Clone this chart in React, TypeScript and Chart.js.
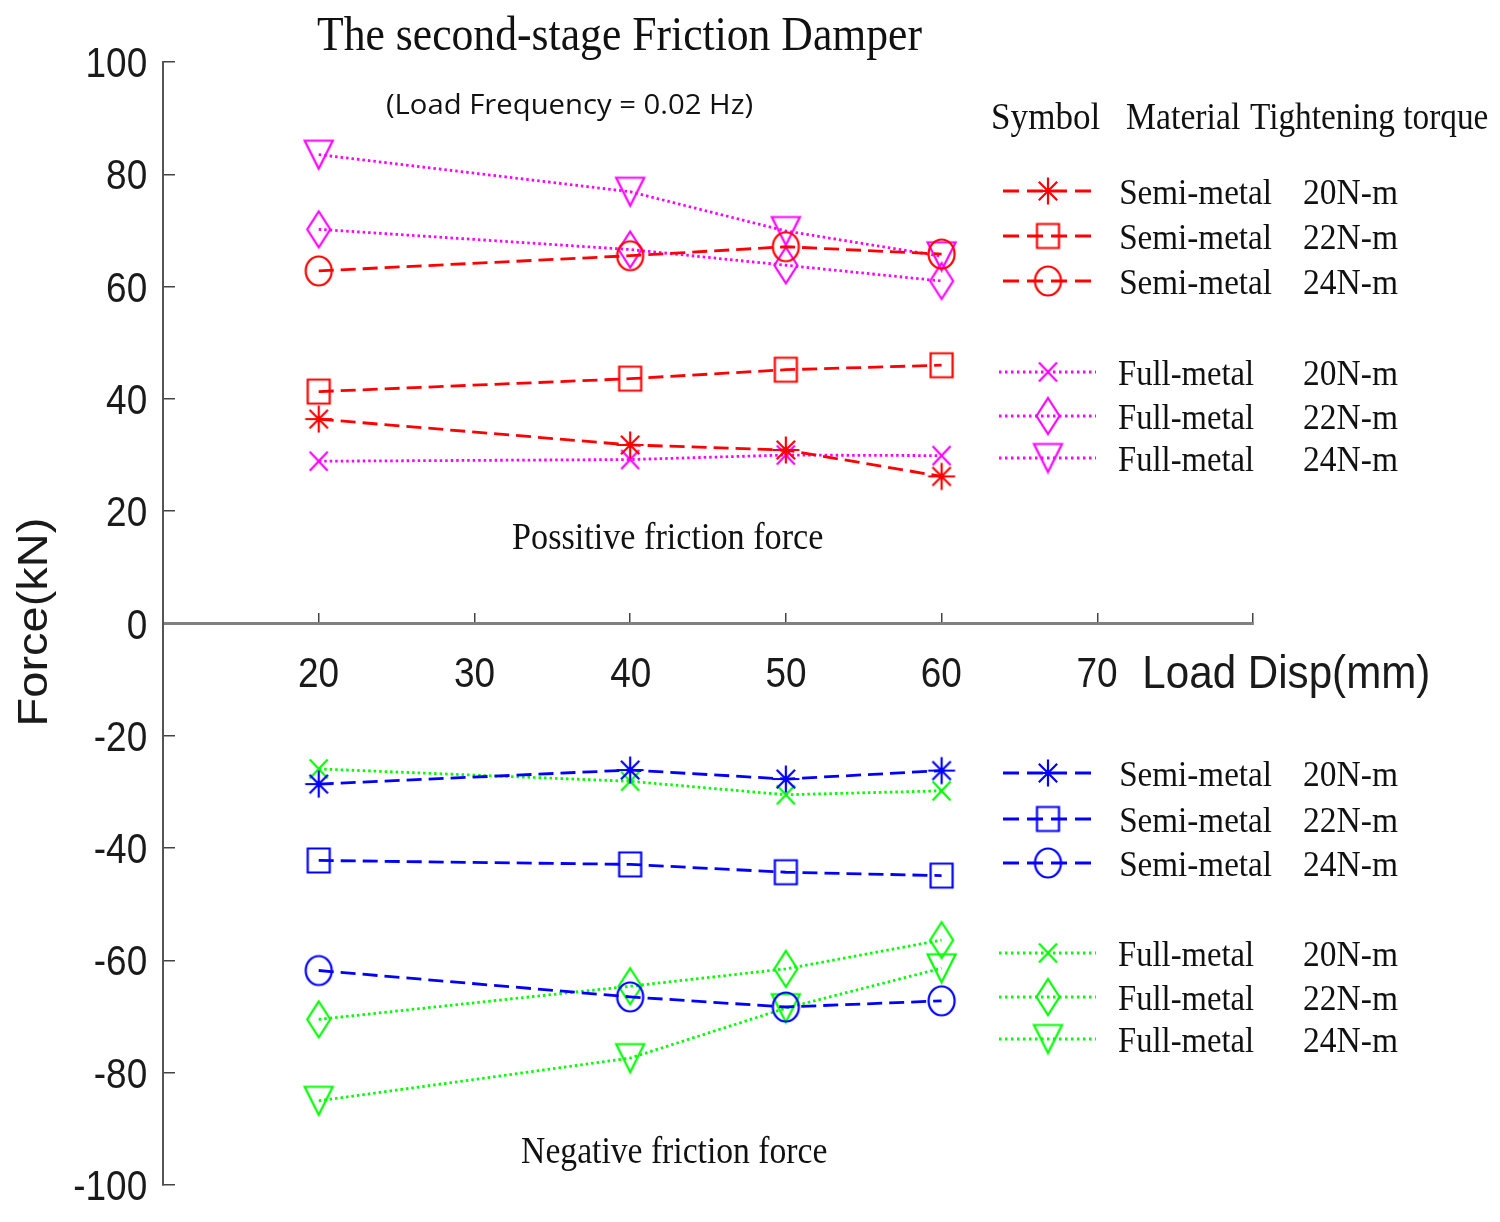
import React, { useEffect, useRef } from 'react';
import { Chart, registerables } from 'chart.js';

Chart.register(...registerables);

// ---------- data ----------
const loadDisp = [20, 40, 50, 60];

const semi20Pos = [36.4, 31.8, 30.9, 26.2];
const semi22Pos = [41.3, 43.6, 45.2, 46.0];
const semi24Pos = [62.8, 65.5, 67.1, 65.8];
const full20Pos = [28.9, 29.2, 30.0, 29.9];
const full22Pos = [70.2, 66.6, 63.8, 61.0];
const full24Pos = [83.5, 76.9, 69.9, 65.4];

const semi20Neg = [-28.6, -26.1, -27.7, -26.2];
const semi22Neg = [-42.2, -42.9, -44.3, -44.9];
const semi24Neg = [-61.8, -66.5, -68.3, -67.2];
const full20Neg = [-25.9, -28.1, -30.5, -29.8];
const full22Neg = [-70.5, -64.6, -61.5, -56.4];
const full24Neg = [-85.0, -77.4, -68.5, -61.4];

const materials = ['Semi-metal', 'Full-metal'];
const torques = ['20N-m', '22N-m', '24N-m'];
const legendHeader = ['Symbol', 'Material', 'Tightening torque'];

const titleText = 'The second-stage Friction Damper';
const subtitleText = '(Load Frequency = 0.02 Hz)';
const positiveNote = 'Possitive friction force';
const negativeNote = 'Negative friction force';
const xTitle = 'Load Disp(mm)';
const yTitle = 'Force(kN)';

// ---------- styling ----------
const RED = '#ff0000';
const MAGENTA = '#ff00ff';
const BLUE = '#0000ff';
const GREEN = '#00ff00';
const DASH = [15, 7];
const DOT = [2.5, 3];

const SERIF = '"Liberation Serif", "Times New Roman", serif';
const SANS = '"Liberation Sans", Arial, sans-serif';

type Shape = 'star' | 'square' | 'circle' | 'x' | 'diamond' | 'tri';
const markerDims: Record<Shape, [number, number]> = {
  star: [27, 27],
  square: [22, 24],
  circle: [26, 29],
  x: [18, 19],
  diamond: [23, 36],
  tri: [28, 28],
};

function makeMarker(shape: Shape, color: string): HTMLCanvasElement {
  const [w, h] = markerDims[shape];
  const lw = 2.2;
  const c = document.createElement('canvas');
  c.width = Math.ceil(w + 2 * lw);
  c.height = Math.ceil(h + 2 * lw);
  const g = c.getContext('2d')!;
  g.strokeStyle = color;
  g.lineWidth = lw;
  const cx = c.width / 2;
  const cy = c.height / 2;
  const rx = w / 2;
  const ry = h / 2;
  g.beginPath();
  if (shape === 'circle') {
    g.ellipse(cx, cy, rx, ry, 0, 0, Math.PI * 2);
  } else if (shape === 'square') {
    g.rect(cx - rx, cy - ry, w, h);
  } else if (shape === 'diamond') {
    g.moveTo(cx, cy - ry);
    g.lineTo(cx + rx, cy);
    g.lineTo(cx, cy + ry);
    g.lineTo(cx - rx, cy);
    g.closePath();
  } else if (shape === 'tri') {
    g.moveTo(cx - rx, cy - ry);
    g.lineTo(cx + rx, cy - ry);
    g.lineTo(cx, cy + ry);
    g.closePath();
  } else if (shape === 'x') {
    g.moveTo(cx - rx, cy - ry);
    g.lineTo(cx + rx, cy + ry);
    g.moveTo(cx + rx, cy - ry);
    g.lineTo(cx - rx, cy + ry);
  } else {
    g.moveTo(cx, cy - ry);
    g.lineTo(cx, cy + ry);
    g.moveTo(cx - rx, cy);
    g.lineTo(cx + rx, cy);
    const d = 0.68;
    g.moveTo(cx - rx * d, cy - ry * d);
    g.lineTo(cx + rx * d, cy + ry * d);
    g.moveTo(cx + rx * d, cy - ry * d);
    g.lineTo(cx - rx * d, cy + ry * d);
  }
  g.stroke();
  return c;
}

interface SeriesDef {
  material: number;
  torque: number;
  values: number[];
  color: string;
  shape: Shape;
  group: number;
}

const seriesDefs: SeriesDef[] = [
  { material: 0, torque: 0, values: semi20Pos, color: RED, shape: 'star', group: 0 },
  { material: 0, torque: 1, values: semi22Pos, color: RED, shape: 'square', group: 0 },
  { material: 0, torque: 2, values: semi24Pos, color: RED, shape: 'circle', group: 0 },
  { material: 1, torque: 0, values: full20Pos, color: MAGENTA, shape: 'x', group: 0 },
  { material: 1, torque: 1, values: full22Pos, color: MAGENTA, shape: 'diamond', group: 0 },
  { material: 1, torque: 2, values: full24Pos, color: MAGENTA, shape: 'tri', group: 0 },
  { material: 0, torque: 0, values: semi20Neg, color: BLUE, shape: 'star', group: 1 },
  { material: 0, torque: 1, values: semi22Neg, color: BLUE, shape: 'square', group: 1 },
  { material: 0, torque: 2, values: semi24Neg, color: BLUE, shape: 'circle', group: 1 },
  { material: 1, torque: 0, values: full20Neg, color: GREEN, shape: 'x', group: 1 },
  { material: 1, torque: 1, values: full22Neg, color: GREEN, shape: 'diamond', group: 1 },
  { material: 1, torque: 2, values: full24Neg, color: GREEN, shape: 'tri', group: 1 },
];

// legend row centres (px) for positive / negative blocks
const legendRows = [
  [191, 236, 281, 372, 416, 458],
  [773, 819, 863, 953, 997, 1039],
];

function inkText(
  ctx: CanvasRenderingContext2D,
  text: string,
  left: number,
  right: number,
  baseline: number,
  font: string,
  color = '#111'
) {
  ctx.save();
  ctx.font = font;
  ctx.textAlign = 'left';
  ctx.textBaseline = 'alphabetic';
  const m = ctx.measureText(text);
  const ink = m.actualBoundingBoxLeft + m.actualBoundingBoxRight;
  const sx = (right - left) / ink;
  ctx.translate(left, baseline);
  ctx.scale(sx, 1);
  ctx.fillStyle = color;
  ctx.fillText(text, m.actualBoundingBoxLeft, 0);
  ctx.restore();
}

function scaledText(
  ctx: CanvasRenderingContext2D,
  text: string,
  x: number,
  baseline: number,
  font: string,
  sx: number,
  align: 'center' | 'right',
  color = '#1a1a1a'
) {
  ctx.save();
  ctx.font = font;
  ctx.textAlign = 'left';
  ctx.textBaseline = 'alphabetic';
  const m = ctx.measureText(text);
  ctx.translate(x, baseline);
  ctx.scale(sx, 1);
  ctx.fillStyle = color;
  if (align === 'right') {
    ctx.fillText(text, -m.actualBoundingBoxRight, 0);
  } else {
    const ink = m.actualBoundingBoxLeft + m.actualBoundingBoxRight;
    ctx.fillText(text, -ink / 2 + m.actualBoundingBoxLeft, 0);
  }
  ctx.restore();
}

export default function App() {
  const ref = useRef<HTMLCanvasElement | null>(null);

  useEffect(() => {
    document.body.style.margin = '0';
    const canvas = ref.current;
    if (!canvas) return;

    const markers = seriesDefs.map((s) => makeMarker(s.shape, s.color));

    const datasets = seriesDefs.map((s, i) => ({
      label: `${materials[s.material]} ${torques[s.torque]}`,
      data: loadDisp.map((x, j) => ({ x, y: s.values[j] })),
      borderColor: s.color,
      backgroundColor: s.color,
      borderWidth: 2.8,
      borderDash: s.material === 0 ? DASH : DOT,
      pointStyle: markers[i] as any,
      pointRadius: 12,
      pointHoverRadius: 12,
      tension: 0,
      fill: false,
      showLine: true,
    }));

    const textPlugin = {
      id: 'texts',
      afterDraw(chart: any) {
        const ctx: CanvasRenderingContext2D = chart.ctx;
        const ys = chart.scales.y;
        const xs = chart.scales.x;
        const zeroY = ys.getPixelForValue(0);

        // y tick labels
        ys.ticks.forEach((t: any) => {
          const py = ys.getPixelForValue(t.value);
          scaledText(ctx, String(t.value), 146, py + 15, `42px ${SANS}`, 0.88, 'right');
        });
        // x tick labels
        xs.ticks.forEach((t: any) => {
          if (t.value <= xs.min || t.value >= xs.max) return;
          const px = xs.getPixelForValue(t.value);
          scaledText(ctx, String(t.value), px, zeroY + 63, `42px ${SANS}`, 0.88, 'center');
        });
        // axis titles
        inkText(ctx, xTitle, 1145, 1428, zeroY + 64, `47px ${SANS}`, '#1a1a1a');
        ctx.save();
        ctx.translate(47, 622);
        ctx.rotate(-Math.PI / 2);
        ctx.scale(1, 0.91);
        ctx.font = `47px ${SANS}`;
        ctx.textAlign = 'center';
        ctx.textBaseline = 'alphabetic';
        ctx.fillStyle = '#1a1a1a';
        ctx.fillText(yTitle, 0, 0);
        ctx.restore();

        // title & annotations
        inkText(ctx, titleText, 317, 922, 50, `48px ${SERIF}`);
        inkText(ctx, subtitleText, 387, 752, 114, `27px "Open Sans", ${SANS}`);
        inkText(ctx, positiveNote, 513, 823, 549, `37px ${SERIF}`);
        inkText(ctx, negativeNote, 522, 827, 1163, `37px ${SERIF}`);

        // legend header
        inkText(ctx, legendHeader[0], 993, 1100, 129, `37px ${SERIF}`);
        inkText(ctx, legendHeader[1], 1127, 1240, 129, `37px ${SERIF}`);
        inkText(ctx, legendHeader[2], 1250, 1488, 129, `37px ${SERIF}`);

        // legend rows
        seriesDefs.forEach((s, i) => {
          const rowY = legendRows[s.group][s.material * 3 + s.torque];
          ctx.save();
          ctx.strokeStyle = s.color;
          ctx.lineWidth = 2.8;
          ctx.setLineDash(s.material === 0 ? [16, 8] : [2.5, 3.5]);
          ctx.beginPath();
          ctx.moveTo(s.material === 0 ? 1003 : 999, rowY);
          ctx.lineTo(1096, rowY);
          ctx.stroke();
          ctx.restore();
          const mk = markers[i];
          ctx.drawImage(mk, 1048 - mk.width / 2, rowY - mk.height / 2);
          if (s.material === 0) {
            inkText(ctx, materials[0], 1121, 1272, rowY + 13, `36px ${SERIF}`);
          } else {
            inkText(ctx, materials[1], 1119, 1254, rowY + 13, `36px ${SERIF}`);
          }
          inkText(ctx, torques[s.torque], 1304, 1398, rowY + 13, `36px ${SERIF}`);
        });
      },
    };

    const chart = new Chart(canvas, {
      type: 'line',
      data: { datasets: datasets as any },
      options: {
        animation: false,
        responsive: false,
        devicePixelRatio: 1,
        layout: { padding: { left: 0, right: 247, top: 62, bottom: 37 } },
        plugins: {
          legend: { display: false },
          tooltip: { enabled: false },
          title: { display: false },
        },
        scales: {
          x: {
            type: 'linear',
            min: 10,
            max: 80,
            position: { y: 0 } as any,
            ticks: { stepSize: 10, display: false },
            grid: {
              drawOnChartArea: false,
              drawTicks: true,
              tickLength: -12,
              color: '#444',
              lineWidth: 1.5,
            },
            border: { display: true, color: '#808080', width: 3 },
          },
          y: {
            type: 'linear',
            min: -100,
            max: 100,
            position: 'left',
            ticks: { stepSize: 20, display: false },
            grid: {
              drawOnChartArea: false,
              drawTicks: true,
              tickLength: -12,
              color: '#444',
              lineWidth: 1.5,
            },
            border: { display: true, color: '#555', width: 2 },
            afterFit: (scale: any) => {
              scale.width = 163;
            },
          },
        },
      },
      plugins: [textPlugin],
    });

    return () => {
      chart.destroy();
    };
  }, []);

  return (
    <div style={{ width: 1500, height: 1222, background: '#fff' }}>
      <canvas ref={ref} width={1500} height={1222} style={{ width: 1500, height: 1222, display: 'block' }} />
    </div>
  );
}
